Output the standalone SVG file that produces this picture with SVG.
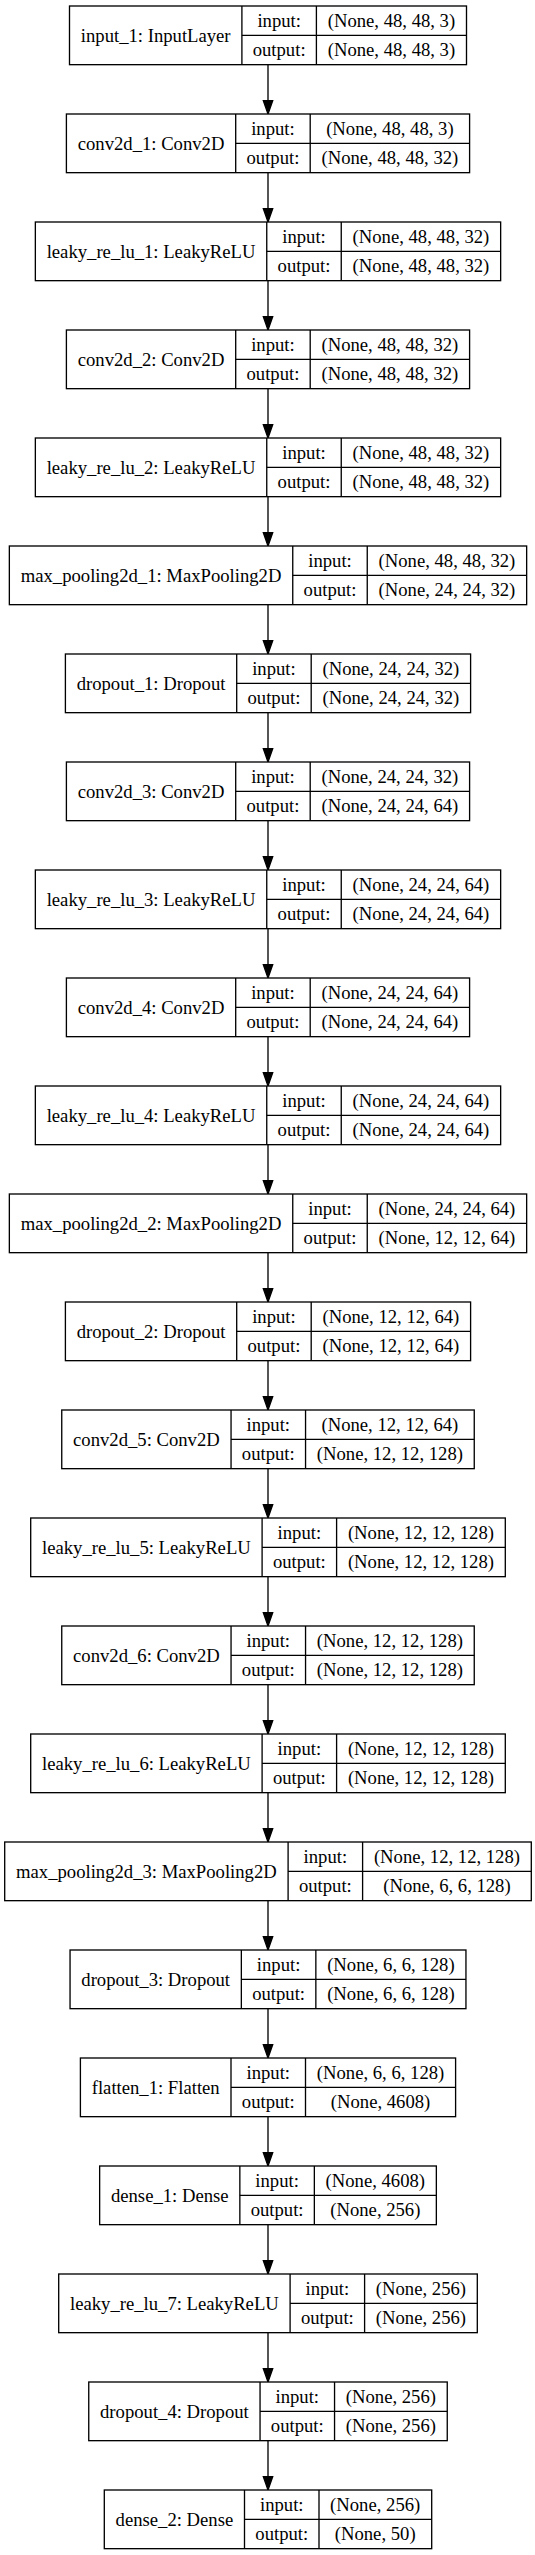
<svg xmlns="http://www.w3.org/2000/svg" width="535" height="2555" viewBox="0 0 535 2555">
<style>
.n rect{fill:#fff;stroke:#000;stroke-width:1.33}
.n line{stroke:#000;stroke-width:1.33}
text{font-family:"Liberation Serif","Times New Roman",serif;font-size:18.67px;text-anchor:middle;fill:#000}
#edges line{stroke:#000;stroke-width:1.33;marker-end:url(#ah)}
</style>
<defs>
<marker id="ah" markerUnits="userSpaceOnUse" viewBox="0 -4.67 13.33 9.33" refX="0" refY="0" markerWidth="13.33" markerHeight="9.33" orient="auto" overflow="visible">
<path d="M0,-4.67 L13.33,0 L0,4.67 Z" fill="#000" stroke="#000" stroke-width="1.33"/>
</marker>
</defs>
<rect x="0" y="0" width="535" height="2555" fill="#fff"/>
<g id="edges">
<line x1="268" y1="64.67" x2="268" y2="100.67"/>
<line x1="268" y1="172.67" x2="268" y2="208.67"/>
<line x1="268" y1="280.67" x2="268" y2="316.67"/>
<line x1="268" y1="388.67" x2="268" y2="424.67"/>
<line x1="268" y1="496.67" x2="268" y2="532.67"/>
<line x1="268" y1="604.67" x2="268" y2="640.67"/>
<line x1="268" y1="712.67" x2="268" y2="748.67"/>
<line x1="268" y1="820.67" x2="268" y2="856.67"/>
<line x1="268" y1="928.67" x2="268" y2="964.67"/>
<line x1="268" y1="1036.67" x2="268" y2="1072.67"/>
<line x1="268" y1="1144.67" x2="268" y2="1180.67"/>
<line x1="268" y1="1252.67" x2="268" y2="1288.67"/>
<line x1="268" y1="1360.67" x2="268" y2="1396.67"/>
<line x1="268" y1="1468.67" x2="268" y2="1504.67"/>
<line x1="268" y1="1576.67" x2="268" y2="1612.67"/>
<line x1="268" y1="1684.67" x2="268" y2="1720.67"/>
<line x1="268" y1="1792.67" x2="268" y2="1828.67"/>
<line x1="268" y1="1900.67" x2="268" y2="1936.67"/>
<line x1="268" y1="2008.67" x2="268" y2="2044.67"/>
<line x1="268" y1="2116.67" x2="268" y2="2152.67"/>
<line x1="268" y1="2224.67" x2="268" y2="2260.67"/>
<line x1="268" y1="2332.67" x2="268" y2="2368.67"/>
<line x1="268" y1="2440.67" x2="268" y2="2476.67"/>
</g>

<g id="input_1" class="n" transform="translate(0,6)">
<rect x="69.5" y="0" width="397" height="58.67"/>
<line x1="241.9" y1="0" x2="241.9" y2="58.67"/><line x1="316.4" y1="0" x2="316.4" y2="58.67"/><line x1="241.9" y1="29.33" x2="466.5" y2="29.33"/>
<text x="155.7" y="35.5">input_1: InputLayer</text>
<text x="279.15" y="20.5">input:</text><text x="279.15" y="50">output:</text>
<text x="391.45" y="20.5">(None, 48, 48, 3)</text><text x="391.45" y="50">(None, 48, 48, 3)</text>
</g>

<g id="conv2d_1" class="n" transform="translate(0,114)">
<rect x="66.4" y="0" width="403.2" height="58.67"/>
<line x1="235.7" y1="0" x2="235.7" y2="58.67"/><line x1="310.2" y1="0" x2="310.2" y2="58.67"/><line x1="235.7" y1="29.33" x2="469.6" y2="29.33"/>
<text x="151.05" y="35.5">conv2d_1: Conv2D</text>
<text x="272.95" y="20.5">input:</text><text x="272.95" y="50">output:</text>
<text x="389.9" y="20.5">(None, 48, 48, 3)</text><text x="389.9" y="50">(None, 48, 48, 32)</text>
</g>

<g id="leaky_re_lu_1" class="n" transform="translate(0,222)">
<rect x="35.35" y="0" width="465.3" height="58.67"/>
<line x1="266.75" y1="0" x2="266.75" y2="58.67"/><line x1="341.25" y1="0" x2="341.25" y2="58.67"/><line x1="266.75" y1="29.33" x2="500.65" y2="29.33"/>
<text x="151.05" y="35.5">leaky_re_lu_1: LeakyReLU</text>
<text x="304" y="20.5">input:</text><text x="304" y="50">output:</text>
<text x="420.95" y="20.5">(None, 48, 48, 32)</text><text x="420.95" y="50">(None, 48, 48, 32)</text>
</g>

<g id="conv2d_2" class="n" transform="translate(0,330)">
<rect x="66.4" y="0" width="403.2" height="58.67"/>
<line x1="235.7" y1="0" x2="235.7" y2="58.67"/><line x1="310.2" y1="0" x2="310.2" y2="58.67"/><line x1="235.7" y1="29.33" x2="469.6" y2="29.33"/>
<text x="151.05" y="35.5">conv2d_2: Conv2D</text>
<text x="272.95" y="20.5">input:</text><text x="272.95" y="50">output:</text>
<text x="389.9" y="20.5">(None, 48, 48, 32)</text><text x="389.9" y="50">(None, 48, 48, 32)</text>
</g>

<g id="leaky_re_lu_2" class="n" transform="translate(0,438)">
<rect x="35.35" y="0" width="465.3" height="58.67"/>
<line x1="266.75" y1="0" x2="266.75" y2="58.67"/><line x1="341.25" y1="0" x2="341.25" y2="58.67"/><line x1="266.75" y1="29.33" x2="500.65" y2="29.33"/>
<text x="151.05" y="35.5">leaky_re_lu_2: LeakyReLU</text>
<text x="304" y="20.5">input:</text><text x="304" y="50">output:</text>
<text x="420.95" y="20.5">(None, 48, 48, 32)</text><text x="420.95" y="50">(None, 48, 48, 32)</text>
</g>

<g id="max_pooling2d_1" class="n" transform="translate(0,546)">
<rect x="9.35" y="0" width="517.3" height="58.67"/>
<line x1="292.75" y1="0" x2="292.75" y2="58.67"/><line x1="367.25" y1="0" x2="367.25" y2="58.67"/><line x1="292.75" y1="29.33" x2="526.65" y2="29.33"/>
<text x="151.05" y="35.5">max_pooling2d_1: MaxPooling2D</text>
<text x="330" y="20.5">input:</text><text x="330" y="50">output:</text>
<text x="446.95" y="20.5">(None, 48, 48, 32)</text><text x="446.95" y="50">(None, 24, 24, 32)</text>
</g>

<g id="dropout_1" class="n" transform="translate(0,654)">
<rect x="65.4" y="0" width="405.2" height="58.67"/>
<line x1="236.7" y1="0" x2="236.7" y2="58.67"/><line x1="311.2" y1="0" x2="311.2" y2="58.67"/><line x1="236.7" y1="29.33" x2="470.6" y2="29.33"/>
<text x="151.05" y="35.5">dropout_1: Dropout</text>
<text x="273.95" y="20.5">input:</text><text x="273.95" y="50">output:</text>
<text x="390.9" y="20.5">(None, 24, 24, 32)</text><text x="390.9" y="50">(None, 24, 24, 32)</text>
</g>

<g id="conv2d_3" class="n" transform="translate(0,762)">
<rect x="66.4" y="0" width="403.2" height="58.67"/>
<line x1="235.7" y1="0" x2="235.7" y2="58.67"/><line x1="310.2" y1="0" x2="310.2" y2="58.67"/><line x1="235.7" y1="29.33" x2="469.6" y2="29.33"/>
<text x="151.05" y="35.5">conv2d_3: Conv2D</text>
<text x="272.95" y="20.5">input:</text><text x="272.95" y="50">output:</text>
<text x="389.9" y="20.5">(None, 24, 24, 32)</text><text x="389.9" y="50">(None, 24, 24, 64)</text>
</g>

<g id="leaky_re_lu_3" class="n" transform="translate(0,870)">
<rect x="35.35" y="0" width="465.3" height="58.67"/>
<line x1="266.75" y1="0" x2="266.75" y2="58.67"/><line x1="341.25" y1="0" x2="341.25" y2="58.67"/><line x1="266.75" y1="29.33" x2="500.65" y2="29.33"/>
<text x="151.05" y="35.5">leaky_re_lu_3: LeakyReLU</text>
<text x="304" y="20.5">input:</text><text x="304" y="50">output:</text>
<text x="420.95" y="20.5">(None, 24, 24, 64)</text><text x="420.95" y="50">(None, 24, 24, 64)</text>
</g>

<g id="conv2d_4" class="n" transform="translate(0,978)">
<rect x="66.4" y="0" width="403.2" height="58.67"/>
<line x1="235.7" y1="0" x2="235.7" y2="58.67"/><line x1="310.2" y1="0" x2="310.2" y2="58.67"/><line x1="235.7" y1="29.33" x2="469.6" y2="29.33"/>
<text x="151.05" y="35.5">conv2d_4: Conv2D</text>
<text x="272.95" y="20.5">input:</text><text x="272.95" y="50">output:</text>
<text x="389.9" y="20.5">(None, 24, 24, 64)</text><text x="389.9" y="50">(None, 24, 24, 64)</text>
</g>

<g id="leaky_re_lu_4" class="n" transform="translate(0,1086)">
<rect x="35.35" y="0" width="465.3" height="58.67"/>
<line x1="266.75" y1="0" x2="266.75" y2="58.67"/><line x1="341.25" y1="0" x2="341.25" y2="58.67"/><line x1="266.75" y1="29.33" x2="500.65" y2="29.33"/>
<text x="151.05" y="35.5">leaky_re_lu_4: LeakyReLU</text>
<text x="304" y="20.5">input:</text><text x="304" y="50">output:</text>
<text x="420.95" y="20.5">(None, 24, 24, 64)</text><text x="420.95" y="50">(None, 24, 24, 64)</text>
</g>

<g id="max_pooling2d_2" class="n" transform="translate(0,1194)">
<rect x="9.35" y="0" width="517.3" height="58.67"/>
<line x1="292.75" y1="0" x2="292.75" y2="58.67"/><line x1="367.25" y1="0" x2="367.25" y2="58.67"/><line x1="292.75" y1="29.33" x2="526.65" y2="29.33"/>
<text x="151.05" y="35.5">max_pooling2d_2: MaxPooling2D</text>
<text x="330" y="20.5">input:</text><text x="330" y="50">output:</text>
<text x="446.95" y="20.5">(None, 24, 24, 64)</text><text x="446.95" y="50">(None, 12, 12, 64)</text>
</g>

<g id="dropout_2" class="n" transform="translate(0,1302)">
<rect x="65.4" y="0" width="405.2" height="58.67"/>
<line x1="236.7" y1="0" x2="236.7" y2="58.67"/><line x1="311.2" y1="0" x2="311.2" y2="58.67"/><line x1="236.7" y1="29.33" x2="470.6" y2="29.33"/>
<text x="151.05" y="35.5">dropout_2: Dropout</text>
<text x="273.95" y="20.5">input:</text><text x="273.95" y="50">output:</text>
<text x="390.9" y="20.5">(None, 12, 12, 64)</text><text x="390.9" y="50">(None, 12, 12, 64)</text>
</g>

<g id="conv2d_5" class="n" transform="translate(0,1410)">
<rect x="61.75" y="0" width="412.5" height="58.67"/>
<line x1="231.05" y1="0" x2="231.05" y2="58.67"/><line x1="305.55" y1="0" x2="305.55" y2="58.67"/><line x1="231.05" y1="29.33" x2="474.25" y2="29.33"/>
<text x="146.4" y="35.5">conv2d_5: Conv2D</text>
<text x="268.3" y="20.5">input:</text><text x="268.3" y="50">output:</text>
<text x="389.9" y="20.5">(None, 12, 12, 64)</text><text x="389.9" y="50">(None, 12, 12, 128)</text>
</g>

<g id="leaky_re_lu_5" class="n" transform="translate(0,1518)">
<rect x="30.7" y="0" width="474.6" height="58.67"/>
<line x1="262.1" y1="0" x2="262.1" y2="58.67"/><line x1="336.6" y1="0" x2="336.6" y2="58.67"/><line x1="262.1" y1="29.33" x2="505.3" y2="29.33"/>
<text x="146.4" y="35.5">leaky_re_lu_5: LeakyReLU</text>
<text x="299.35" y="20.5">input:</text><text x="299.35" y="50">output:</text>
<text x="420.95" y="20.5">(None, 12, 12, 128)</text><text x="420.95" y="50">(None, 12, 12, 128)</text>
</g>

<g id="conv2d_6" class="n" transform="translate(0,1626)">
<rect x="61.75" y="0" width="412.5" height="58.67"/>
<line x1="231.05" y1="0" x2="231.05" y2="58.67"/><line x1="305.55" y1="0" x2="305.55" y2="58.67"/><line x1="231.05" y1="29.33" x2="474.25" y2="29.33"/>
<text x="146.4" y="35.5">conv2d_6: Conv2D</text>
<text x="268.3" y="20.5">input:</text><text x="268.3" y="50">output:</text>
<text x="389.9" y="20.5">(None, 12, 12, 128)</text><text x="389.9" y="50">(None, 12, 12, 128)</text>
</g>

<g id="leaky_re_lu_6" class="n" transform="translate(0,1734)">
<rect x="30.7" y="0" width="474.6" height="58.67"/>
<line x1="262.1" y1="0" x2="262.1" y2="58.67"/><line x1="336.6" y1="0" x2="336.6" y2="58.67"/><line x1="262.1" y1="29.33" x2="505.3" y2="29.33"/>
<text x="146.4" y="35.5">leaky_re_lu_6: LeakyReLU</text>
<text x="299.35" y="20.5">input:</text><text x="299.35" y="50">output:</text>
<text x="420.95" y="20.5">(None, 12, 12, 128)</text><text x="420.95" y="50">(None, 12, 12, 128)</text>
</g>

<g id="max_pooling2d_3" class="n" transform="translate(0,1842)">
<rect x="4.7" y="0" width="526.6" height="58.67"/>
<line x1="288.1" y1="0" x2="288.1" y2="58.67"/><line x1="362.6" y1="0" x2="362.6" y2="58.67"/><line x1="288.1" y1="29.33" x2="531.3" y2="29.33"/>
<text x="146.4" y="35.5">max_pooling2d_3: MaxPooling2D</text>
<text x="325.35" y="20.5">input:</text><text x="325.35" y="50">output:</text>
<text x="446.95" y="20.5">(None, 12, 12, 128)</text><text x="446.95" y="50">(None, 6, 6, 128)</text>
</g>

<g id="dropout_3" class="n" transform="translate(0,1950)">
<rect x="70.05" y="0" width="395.9" height="58.67"/>
<line x1="241.35" y1="0" x2="241.35" y2="58.67"/><line x1="315.85" y1="0" x2="315.85" y2="58.67"/><line x1="241.35" y1="29.33" x2="465.95" y2="29.33"/>
<text x="155.7" y="35.5">dropout_3: Dropout</text>
<text x="278.6" y="20.5">input:</text><text x="278.6" y="50">output:</text>
<text x="390.9" y="20.5">(None, 6, 6, 128)</text><text x="390.9" y="50">(None, 6, 6, 128)</text>
</g>

<g id="flatten_1" class="n" transform="translate(0,2058)">
<rect x="80.4" y="0" width="375.2" height="58.67"/>
<line x1="231" y1="0" x2="231" y2="58.67"/><line x1="305.5" y1="0" x2="305.5" y2="58.67"/><line x1="231" y1="29.33" x2="455.6" y2="29.33"/>
<text x="155.7" y="35.5">flatten_1: Flatten</text>
<text x="268.25" y="20.5">input:</text><text x="268.25" y="50">output:</text>
<text x="380.55" y="20.5">(None, 6, 6, 128)</text><text x="380.55" y="50">(None, 4608)</text>
</g>

<g id="dense_1" class="n" transform="translate(0,2166)">
<rect x="99.65" y="0" width="336.7" height="58.67"/>
<line x1="239.85" y1="0" x2="239.85" y2="58.67"/><line x1="314.35" y1="0" x2="314.35" y2="58.67"/><line x1="239.85" y1="29.33" x2="436.35" y2="29.33"/>
<text x="169.75" y="35.5">dense_1: Dense</text>
<text x="277.1" y="20.5">input:</text><text x="277.1" y="50">output:</text>
<text x="375.35" y="20.5">(None, 4608)</text><text x="375.35" y="50">(None, 256)</text>
</g>

<g id="leaky_re_lu_7" class="n" transform="translate(0,2274)">
<rect x="58.7" y="0" width="418.6" height="58.67"/>
<line x1="290.1" y1="0" x2="290.1" y2="58.67"/><line x1="364.6" y1="0" x2="364.6" y2="58.67"/><line x1="290.1" y1="29.33" x2="477.3" y2="29.33"/>
<text x="174.4" y="35.5">leaky_re_lu_7: LeakyReLU</text>
<text x="327.35" y="20.5">input:</text><text x="327.35" y="50">output:</text>
<text x="420.95" y="20.5">(None, 256)</text><text x="420.95" y="50">(None, 256)</text>
</g>

<g id="dropout_4" class="n" transform="translate(0,2382)">
<rect x="88.75" y="0" width="358.5" height="58.67"/>
<line x1="260.05" y1="0" x2="260.05" y2="58.67"/><line x1="334.55" y1="0" x2="334.55" y2="58.67"/><line x1="260.05" y1="29.33" x2="447.25" y2="29.33"/>
<text x="174.4" y="35.5">dropout_4: Dropout</text>
<text x="297.3" y="20.5">input:</text><text x="297.3" y="50">output:</text>
<text x="390.9" y="20.5">(None, 256)</text><text x="390.9" y="50">(None, 256)</text>
</g>

<g id="dense_2" class="n" transform="translate(0,2490)">
<rect x="104.3" y="0" width="327.4" height="58.67"/>
<line x1="244.5" y1="0" x2="244.5" y2="58.67"/><line x1="319" y1="0" x2="319" y2="58.67"/><line x1="244.5" y1="29.33" x2="431.4" y2="29.33"/>
<text x="174.4" y="35.5">dense_2: Dense</text>
<text x="281.75" y="20.5">input:</text><text x="281.75" y="50">output:</text>
<text x="375.2" y="20.5">(None, 256)</text><text x="375.2" y="50">(None, 50)</text>
</g>
</svg>
